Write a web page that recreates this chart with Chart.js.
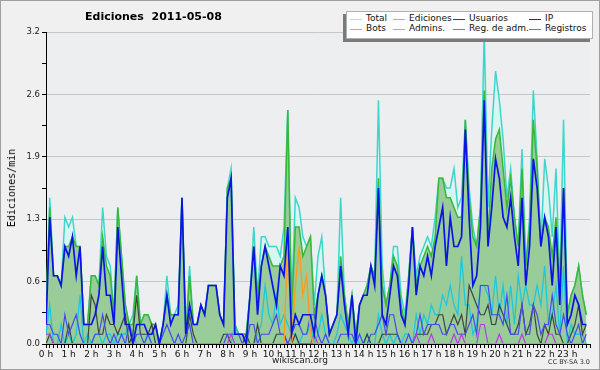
<!DOCTYPE html>
<html>
<head>
<meta charset="utf-8">
<script src="https://cdn.jsdelivr.net/npm/chart.js@4.4.1/dist/chart.umd.min.js"></script>
<style>
  body { margin: 0; }
  #wrap { position: relative; width: 600px; height: 370px; background: #f0f0f0; font-family: "DejaVu Sans", sans-serif; overflow: hidden; }
  #frame { position: absolute; left: 0; top: 0; width: 600px; height: 370px; box-sizing: border-box; border: 1px solid #a0a0a0; pointer-events: none; }
  canvas { position: absolute; left: 0; top: 0; }
  .t { position: absolute; white-space: nowrap; color: #000; line-height: 1; }
  #title { left: 85px; top: 11px; font-size: 11px; font-weight: bold; }
  #ytitle { left: 12px; top: 188px; font-family: "DejaVu Sans Mono", monospace; font-size: 10px; transform: translate(-50%, -50%) rotate(-90deg); }
  #site { left: 300px; top: 356px; font-size: 9px; transform: translateX(-50%); color: #222; }
  #lic { right: 10px; top: 359px; font-size: 6.5px; color: #333; }
  #lgShadow { position: absolute; left: 343px; top: 14px; width: 247px; height: 28px; background: #7a7a7a; }
  #lgBox { position: absolute; left: 346px; top: 11px; width: 245px; height: 26px; background: #fff; border: 1px solid #b0b0b0; }
  .lgLine { position: absolute; width: 12px; height: 1px; }
  .lgText { position: absolute; font-size: 9px; line-height: 1; white-space: nowrap; color: #111; }
</style>
</head>
<body>
<div id="wrap">
  <canvas id="chart" width="600" height="370"></canvas>
  <div class="t" id="title">Ediciones&nbsp;&nbsp;2011-05-08</div>
  <div class="t" id="ytitle">Ediciones/min</div>
  <div class="t" id="site">wikiscan.org</div>
  <div class="t" id="lic">CC BY-SA 3.0</div>
  <div id="lgShadow"></div>
  <div id="lgBox"></div>
  <div id="legend"></div>
  <div id="frame"></div>
</div>
<script>
// edits per minute, one value every 10 minutes (00:00 .. 23:50)
const total = [
  0.3, 1.5, 0.7, 0.7, 0.6, 1.3,  1.2, 1.3, 1.0, 1.0, 0.2, 0.2,
  0.7, 0.7, 0.6, 1.4, 0.9, 0.8,  0.3, 1.4, 0.9, 0.4, 0.2, 0.3,
  0.7, 0.2, 0.3, 0.3, 0.2, 0.2,  0.0, 0.2, 0.7, 0.3, 0.3, 0.4,
  1.5, 0.1, 0.8, 0.2, 0.2, 0.4,  0.3, 0.6, 0.6, 0.6, 0.3, 0.2,
  1.6, 1.8, 0.2, 0.1, 0.1, 0.1,  0.5, 1.2, 0.5, 1.1, 1.1, 1.0,
  1.0, 1.0, 0.9, 1.2, 2.4, 0.4,  1.5, 1.4, 1.1, 1.0, 1.1, 0.4,
  0.9, 1.1, 0.5, 0.1, 0.2, 0.3,  1.5, 0.5, 0.2, 0.5, 0.1, 0.4,
  0.5, 0.6, 0.8, 0.7, 2.5, 0.8,  0.4, 0.6, 1.0, 1.0, 0.5, 0.3,
  0.7, 1.2, 0.7, 0.9, 1.0, 1.1,  1.0, 1.3, 1.7, 1.7, 1.6, 1.6,
  1.8, 1.4, 1.5, 2.3, 1.6, 1.2,  1.0, 1.4, 3.2, 1.4, 2.2, 2.8,
  2.5, 2.1, 1.5, 1.8, 1.3, 1.0,  2.0, 0.8, 1.3, 2.6, 1.9, 1.0,
  1.9, 1.6, 1.1, 1.8, 0.6, 2.3,  0.3, 0.5, 0.6, 0.8, 0.5, 0.3
];
const ediciones = [
  0.3, 1.4, 0.7, 0.7, 0.6, 1.0,  1.0, 1.1, 1.0, 1.0, 0.2, 0.2,
  0.7, 0.7, 0.6, 1.1, 0.8, 0.7,  0.3, 1.4, 0.9, 0.4, 0.2, 0.2,
  0.7, 0.2, 0.3, 0.3, 0.2, 0.2,  0.0, 0.2, 0.5, 0.3, 0.3, 0.3,
  1.5, 0.1, 0.7, 0.2, 0.2, 0.4,  0.3, 0.6, 0.6, 0.6, 0.3, 0.2,
  1.6, 1.7, 0.2, 0.1, 0.1, 0.1,  0.5, 1.0, 0.5, 0.8, 1.0, 0.9,
  0.8, 0.8, 0.8, 0.9, 2.4, 0.3,  1.2, 1.2, 0.9, 1.0, 1.1, 0.3,
  0.5, 0.7, 0.5, 0.1, 0.2, 0.3,  0.9, 0.5, 0.2, 0.5, 0.1, 0.4,
  0.5, 0.6, 0.8, 0.7, 1.7, 0.6,  0.4, 0.6, 0.9, 0.8, 0.4, 0.2,
  0.7, 1.2, 0.6, 0.8, 0.9, 1.0,  0.9, 1.1, 1.7, 1.7, 1.5, 1.5,
  1.4, 1.3, 1.3, 2.3, 1.5, 1.1,  1.0, 1.4, 2.6, 1.1, 1.8, 2.1,
  2.2, 1.8, 1.4, 1.7, 1.3, 1.0,  1.8, 0.8, 1.2, 2.3, 1.8, 1.0,
  1.3, 1.2, 0.9, 1.3, 0.6, 1.6,  0.3, 0.5, 0.6, 0.8, 0.5, 0.3
];
const usuarios = [
  0.2, 1.3, 0.7, 0.7, 0.6, 1.0,  0.9, 1.1, 0.7, 1.0, 0.2, 0.2,
  0.2, 0.3, 0.5, 1.0, 0.5, 0.5,  0.2, 1.2, 0.7, 0.2, 0.2, 0.0,
  0.2, 0.2, 0.2, 0.1, 0.1, 0.2,  0.0, 0.2, 0.5, 0.2, 0.3, 0.3,
  1.5, 0.1, 0.4, 0.2, 0.2, 0.4,  0.3, 0.6, 0.6, 0.6, 0.3, 0.2,
  1.5, 1.7, 0.1, 0.1, 0.1, 0.0,  0.5, 1.0, 0.3, 0.8, 1.0, 0.8,
  0.6, 0.4, 0.8, 0.7, 1.2, 0.1,  0.3, 0.2, 0.3, 0.3, 0.3, 0.1,
  0.5, 0.7, 0.5, 0.1, 0.2, 0.3,  0.8, 0.4, 0.1, 0.5, 0.0, 0.4,
  0.5, 0.5, 0.8, 0.6, 1.6, 0.3,  0.2, 0.5, 0.8, 0.7, 0.3, 0.2,
  0.6, 1.2, 0.5, 0.8, 0.7, 0.9,  0.7, 1.0, 1.2, 1.4, 0.8, 1.3,
  1.0, 1.0, 1.1, 2.2, 1.3, 0.6,  0.7, 1.2, 2.5, 1.0, 1.4, 1.9,
  1.7, 1.3, 1.2, 1.5, 1.1, 0.8,  1.5, 0.6, 1.0, 1.9, 1.6, 1.0,
  1.3, 1.1, 0.6, 1.2, 0.4, 1.6,  0.2, 0.3, 0.5, 0.4, 0.2, 0.2
];
const ip = [
  0.0, 0.1, 0.0, 0.0, 0.0, 0.0,  0.2, 0.0, 0.0, 0.0, 0.0, 0.0,
  0.5, 0.4, 0.1, 0.1, 0.3, 0.2,  0.2, 0.1, 0.2, 0.3, 0.0, 0.1,
  0.5, 0.1, 0.1, 0.1, 0.2, 0.0,  0.0, 0.0, 0.0, 0.0, 0.0, 0.0,
  0.0, 0.0, 0.3, 0.1, 0.0, 0.0,  0.0, 0.0, 0.0, 0.0, 0.0, 0.1,
  0.1, 0.0, 0.0, 0.0, 0.0, 0.1,  0.0, 0.0, 0.2, 0.0, 0.0, 0.0,
  0.0, 0.1, 0.1, 0.1, 0.0, 0.0,  0.1, 0.0, 0.0, 0.0, 0.0, 0.0,
  0.0, 0.0, 0.0, 0.0, 0.0, 0.0,  0.0, 0.0, 0.0, 0.0, 0.0, 0.0,
  0.0, 0.1, 0.0, 0.0, 0.0, 0.1,  0.1, 0.1, 0.1, 0.1, 0.0, 0.0,
  0.0, 0.0, 0.1, 0.1, 0.1, 0.1,  0.2, 0.2, 0.3, 0.3, 0.1, 0.2,
  0.3, 0.2, 0.3, 0.1, 0.6, 0.5,  0.4, 0.3, 0.3, 0.4, 0.2, 0.2,
  0.4, 0.3, 0.2, 0.1, 0.1, 0.2,  0.4, 0.1, 0.2, 0.4, 0.1, 0.0,
  0.2, 0.1, 0.3, 0.1, 0.1, 0.0,  0.0, 0.1, 0.2, 0.4, 0.1, 0.2
];
const bots = [
  0, 0, 0, 0, 0, 0,  0, 0, 0, 0, 0, 0,  0, 0, 0, 0, 0, 0,  0, 0, 0, 0, 0, 0,
  0, 0, 0, 0, 0, 0,  0, 0, 0, 0, 0, 0,  0, 0, 0, 0, 0, 0,  0, 0, 0, 0, 0, 0,
  0, 0, 0, 0, 0, 0,  0, 0, 0, 0, 0, 0,  0, 0, 0, 0, 1.1, 0,  0.6, 1.0, 0.5, 0.7, 0.1, 0,
  0, 0, 0, 0, 0, 0,  0, 0, 0, 0, 0, 0,  0, 0, 0, 0, 0, 0,  0, 0, 0, 0, 0, 0,
  0, 0, 0, 0, 0, 0,  0, 0, 0, 0, 0, 0,  0, 0, 0, 0, 0, 0,  0, 0, 0, 0, 0, 0,
  0, 0, 0, 0, 0, 0,  0, 0, 0, 0, 0, 0,  0, 0, 0, 0, 0, 0,  0, 0, 0, 0, 0, 0
];
const admins = [
  0.1, 0.4, 0.0, 0.0, 0.2, 0.0,  0.1, 0.0, 0.1, 0.5, 0.0, 0.1,
  0.0, 0.1, 0.1, 0.0, 0.1, 0.1,  0.0, 0.1, 0.1, 0.1, 0.2, 0.1,
  0.0, 0.0, 0.0, 0.1, 0.0, 0.0,  0.0, 0.0, 0.0, 0.0, 0.0, 0.0,
  0.0, 0.0, 0.0, 0.0, 0.0, 0.0,  0.0, 0.0, 0.0, 0.0, 0.0, 0.0,
  0.0, 0.0, 0.2, 0.1, 0.1, 0.0,  0.0, 0.0, 0.1, 0.2, 0.6, 0.3,
  0.2, 0.5, 0.2, 0.3, 0.2, 0.1,  0.1, 0.0, 0.1, 0.1, 0.2, 0.0,
  0.1, 0.3, 0.1, 0.0, 0.0, 0.1,  0.3, 0.2, 0.1, 0.0, 0.1, 0.0,
  0.0, 0.1, 0.0, 0.0, 0.3, 0.1,  0.0, 0.1, 0.0, 0.1, 0.0, 0.1,
  0.1, 0.0, 0.3, 0.1, 0.3, 0.2,  0.4, 0.3, 0.3, 0.5, 0.4, 0.6,
  0.4, 0.3, 0.9, 0.4, 0.4, 0.1,  0.2, 0.6, 0.6, 0.5, 0.3, 0.7,
  0.3, 0.6, 0.2, 0.6, 0.2, 0.7,  0.4, 0.6, 0.4, 0.4, 0.6, 0.4,
  0.8, 0.2, 0.3, 0.6, 0.1, 0.8,  0.0, 0.2, 0.1, 0.1, 0.1, 0.0
];
const regAdm = [
  0.1, 0.1, 0, 0, 0, 0,  0, 0, 0, 0, 0, 0,  0, 0, 0, 0, 0, 0,  0, 0, 0, 0, 0, 0,
  0, 0, 0, 0, 0, 0,  0, 0, 0, 0, 0, 0,  0, 0, 0, 0, 0, 0,  0, 0, 0, 0, 0, 0,
  0, 0.1, 0, 0, 0, 0,  0, 0, 0, 0, 0, 0,  0, 0, 0, 0, 0, 0,  0, 0, 0, 0, 0, 0.1,
  0, 0, 0, 0, 0, 0,  0, 0, 0, 0, 0, 0,  0, 0, 0, 0, 0, 0,  0, 0, 0, 0, 0, 0,
  0, 0, 0.1, 0, 0, 0,  0.1, 0, 0, 0, 0, 0,  0.1, 0, 0.1, 0, 0, 0,  0, 0.2, 0.2, 0, 0, 0,
  0.1, 0, 0, 0, 0, 0,  0.1, 0, 0, 0, 0, 0,  0, 0.1, 0.1, 0, 0, 0,  0, 0, 0, 0, 0, 0
];
const registros = [
  0.2, 0.2, 0.1, 0.1, 0.0, 0.3,  0.1, 0.2, 0.3, 0.1, 0.0, 0.0,
  0.0, 0.1, 0.1, 0.3, 0.1, 0.0,  0.1, 0.0, 0.1, 0.0, 0.2, 0.0,
  0.1, 0.1, 0.0, 0.1, 0.0, 0.0,  0.0, 0.1, 0.2, 0.1, 0.0, 0.1,
  0.0, 0.1, 0.2, 0.0, 0.0, 0.0,  0.0, 0.0, 0.0, 0.0, 0.0, 0.0,
  0.1, 0.1, 0.1, 0.1, 0.0, 0.0,  0.2, 0.2, 0.0, 0.1, 0.1, 0.1,
  0.2, 0.3, 0.1, 0.1, 0.0, 0.1,  0.2, 0.2, 0.1, 0.1, 0.3, 0.3,
  0.1, 0.0, 0.1, 0.0, 0.0, 0.0,  0.1, 0.1, 0.1, 0.1, 0.0, 0.1,
  0.0, 0.0, 0.1, 0.1, 0.2, 0.3,  0.1, 0.3, 0.3, 0.1, 0.0, 0.0,
  0.1, 0.0, 0.1, 0.3, 0.1, 0.2,  0.2, 0.2, 0.2, 0.1, 0.1, 0.2,
  0.2, 0.1, 0.1, 0.1, 0.2, 0.3,  0.1, 0.6, 0.6, 0.6, 0.3, 0.3,
  0.3, 0.2, 0.5, 0.1, 0.1, 0.1,  0.4, 0.1, 0.1, 0.4, 0.3, 0.1,
  0.2, 0.2, 0.5, 0.2, 0.1, 0.3,  0.1, 0.0, 0.1, 0.2, 0.0, 0.1
];

const yMax = 3.2
const yStep = 0.32   // half of a labelled step
const slotMinutes = 10

// legend / drawing order: first drawn at the back
const series = [
  { label: 'Total',        data: total,     color: '#3ed6ca', fill: 'rgba(214,244,240,0.95)', width: 1.5, order: 9 },
  { label: 'Ediciones',    data: ediciones, color: '#38b838', fill: '#99cc99',                width: 1.5, order: 8 },
  { label: 'Usuarios',     data: usuarios,  color: '#0a14e6', legend: '#2a2ad8',              width: 1.7, order: 1 },
  { label: 'IP',           data: ip,        color: 'rgba(45,45,45,0.85)', legend: '#333',     width: 1.2, order: 5 },
  { label: 'Bots',         data: bots,      color: '#ff9a1e', legend: '#f7a040',              width: 1.4, order: 2 },
  { label: 'Admins.',      data: admins,    color: '#1cc8dc', legend: '#58d0dc',              width: 1.3, order: 6 },
  { label: 'Reg. de adm.', data: regAdm,    color: '#b83ce0', legend: '#c050e0',              width: 1.2, order: 3 },
  { label: 'Registros',    data: registros, color: '#4848f0', legend: '#7070e8',              width: 1.2, order: 4 }
]
const legendSwatch = { 'Total': '#a8e6e2', 'Ediciones': '#88cc88' }

const datasets = series.map(s => ({
  label: s.label,
  data: s.data.map((v, i) => ({ x: i * slotMinutes, y: v })),
  borderColor: s.color,
  borderWidth: s.width,
  backgroundColor: s.fill || s.color,
  fill: s.fill ? 'origin' : false,
  order: s.order,
  pointRadius: 0,
  tension: 0
}))

// HTML legend, 4 columns x 2 rows
const legendCols = [350, 393, 453, 529]
const legendRows = [19, 29]
const legendEl = document.getElementById('legend')
series.forEach((s, i) => {
  const cx = legendCols[i % 4], cy = legendRows[Math.floor(i / 4)]
  const line = document.createElement('div')
  line.className = 'lgLine'
  line.style.left = cx + 'px'
  line.style.top = cy + 'px'
  line.style.background = legendSwatch[s.label] || s.legend || s.color
  legendEl.appendChild(line)
  const txt = document.createElement('div')
  txt.className = 'lgText'
  txt.style.left = (cx + 16) + 'px'
  txt.style.top = (cy - 5) + 'px'
  txt.textContent = s.label
  legendEl.appendChild(txt)
})

const plotBg = {
  id: 'plotBg',
  beforeDraw(chart) {
    const { ctx, chartArea: a } = chart
    ctx.save()
    ctx.fillStyle = '#eceef0'
    ctx.fillRect(a.left, a.top, a.right - a.left, a.bottom - a.top)
    ctx.restore()
  }
}

const isMajor = v => Math.round(v / yStep) % 2 === 0

new Chart(document.getElementById('chart'), {
  type: 'line',
  data: { datasets: datasets },
  plugins: [plotBg],
  options: {
    responsive: false,
    animation: false,
    devicePixelRatio: 1,
    layout: { padding: { left: 0, top: 32, right: 10, bottom: 0 } },
    plugins: { legend: { display: false }, tooltip: { enabled: false } },
    scales: {
      x: {
        type: 'linear',
        min: 0,
        max: 24 * 60,
        afterBuildTicks: scale => {
          scale.ticks = []
          for (let m = 0; m <= 24 * 60; m += slotMinutes) scale.ticks.push({ value: m })
        },
        afterFit: scale => { scale.height = 26 },
        ticks: {
          autoSkip: false, maxRotation: 0, minRotation: 0, padding: 1,
          color: '#111', font: { family: 'DejaVu Sans', size: 9 },
          callback: v => (v % 60 === 0 && v < 24 * 60) ? (v / 60) + ' h' : ''
        },
        grid: { drawOnChartArea: false, tickLength: 4, tickColor: '#000' },
        border: { color: '#000', width: 1 }
      },
      y: {
        min: 0,
        max: yMax,
        afterBuildTicks: scale => {
          scale.ticks = []
          for (let k = 0; k <= Math.round(yMax / yStep); k++) scale.ticks.push({ value: k * yStep })
        },
        afterFit: scale => { scale.width = 46 },
        ticks: {
          padding: 2, color: '#222', font: { family: 'DejaVu Sans', size: 8.5 },
          callback: v => isMajor(v) ? v.toFixed(1) : ''
        },
        grid: {
          color: c => (c.tick && c.tick.value > 0 && isMajor(c.tick.value)) ? '#c6c6c6' : 'rgba(0,0,0,0)',
          tickColor: '#000',
          tickLength: 4
        },
        border: { color: '#000', width: 1 }
      }
    }
  }
})
</script>
</body>
</html>
